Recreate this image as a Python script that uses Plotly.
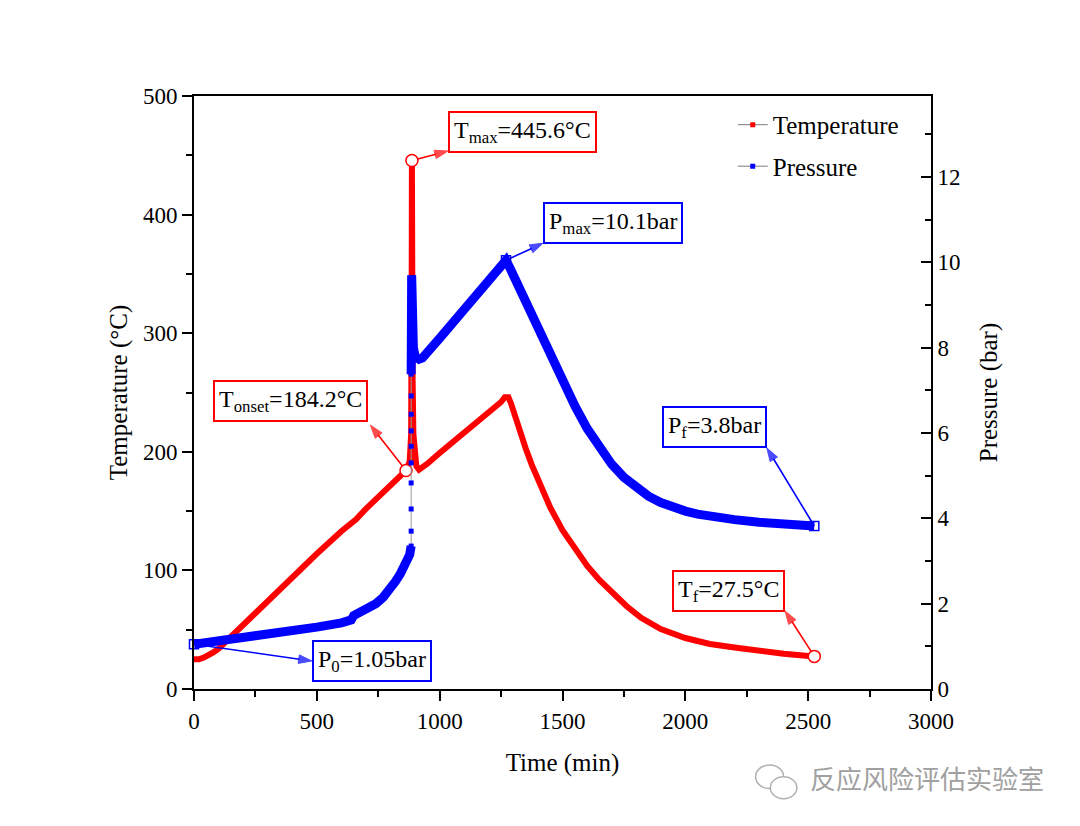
import plotly.graph_objects as go

# ---------------- data ----------------
time_temp = [0, 20, 40, 60, 80, 100, 150, 200, 260, 300, 400, 500, 600, 640, 660, 700, 800,
             863, 878, 884, 886, 887, 888, 890, 893, 898, 905, 916, 950, 1000, 1100, 1200,
             1250, 1265, 1280, 1290, 1300, 1325, 1350, 1375, 1400, 1450, 1500, 1550, 1600,
             1650, 1700, 1760, 1820, 1900, 2000, 2100, 2200, 2300, 2400, 2525]
temp = [25, 25, 26.5, 28.5, 31, 34, 44, 55, 67, 75.5, 95, 114, 133, 140, 143, 152, 171,
        184.2, 192, 215, 330, 445.6, 360, 260, 215, 195, 188, 185, 190, 199, 216, 233,
        242, 246, 246, 241, 234, 218, 203, 189, 176, 153, 134, 118, 104,
        92, 82, 70, 60, 50.5, 43, 38, 35, 32, 29.8, 27.5]

time_pres_rise = [0, 100, 200, 300, 400, 500, 600, 640, 650, 700, 740, 770, 800, 820, 840,
                  855, 868, 878, 884]
pres_rise = [1.05, 1.12, 1.20, 1.28, 1.36, 1.45, 1.55, 1.62, 1.72, 1.86, 2.00, 2.15, 2.35,
             2.52, 2.70, 2.88, 3.02, 3.15, 3.35]

time_pres_jump = [884, 884, 884, 884, 884, 884, 884, 884, 884, 884]
pres_jump = [3.35, 3.70, 4.22, 4.83, 5.30, 5.69, 6.05, 6.44, 6.87, 7.38]

time_pres_after = [884, 885, 886, 887, 889, 893, 900, 916, 930, 950, 1000, 1100, 1200, 1250,
                   1270, 1290, 1320, 1350, 1400, 1450, 1500, 1550, 1600, 1650, 1700, 1750,
                   1800, 1850, 1900, 1950, 2000, 2050, 2100, 2200, 2300, 2400, 2525]
pres_after = [7.38, 8.5, 9.7, 9.0, 8.4, 8.0, 7.8, 7.73, 7.76, 7.88, 8.22, 8.9, 9.58, 9.9,
              10.05, 9.82, 9.45, 9.08, 8.45, 7.83, 7.22, 6.64, 6.11, 5.65, 5.27, 4.96,
              4.71, 4.52, 4.37, 4.26, 4.17, 4.1, 4.05, 3.97, 3.91, 3.86, 3.82]

# key points
temp_key_time = [863, 887, 2525]
temp_key_val = [184.2, 445.6, 27.5]
pres_key_time = [0, 1270, 2525]
pres_key_val = [1.05, 10.05, 3.82]

# label boxes and their pointer arrows (tail = key point, tip = box corner)
temp_labels = ["T<sub>onset</sub>=184.2°C", "T<sub>max</sub>=445.6°C", "T<sub>f</sub>=27.5°C"]
temp_label_x = [708, 1034, 2406]
temp_label_y = [242.8, 469.6, 83]
temp_label_anchor = ["right", "left", "right"]
temp_tip_x = [718, 1034, 2406]
temp_tip_y = [222.5, 453.6, 65.8]

pres_labels = ["P<sub>0</sub>=1.05bar", "P<sub>max</sub>=10.1bar", "P<sub>f</sub>=3.8bar"]
pres_label_x = [480, 1421, 2332]
pres_label_y = [0.668, 10.92, 6.14]
pres_label_anchor = ["left", "left", "right"]
pres_tip_x = [480, 1421, 2332]
pres_tip_y = [0.656, 10.45, 5.65]

x_ticks = [0, 500, 1000, 1500, 2000, 2500, 3000]
y_ticks = [0, 100, 200, 300, 400, 500]
y2_ticks = [0, 2, 4, 6, 8, 10, 12]

RED = "#ff0000"
BLUE = "#0000ff"
FONT = "Times New Roman, Liberation Serif, serif"

fig = go.Figure()

# temperature
fig.add_trace(go.Scatter(x=time_temp, y=temp, mode="lines",
                         line=dict(color=RED, width=6), showlegend=False, yaxis="y"))
# pressure
fig.add_trace(go.Scatter(x=time_pres_rise, y=pres_rise, mode="lines",
                         line=dict(color=BLUE, width=9), showlegend=False, yaxis="y2"))
fig.add_trace(go.Scatter(x=time_pres_jump, y=pres_jump, mode="lines+markers",
                         line=dict(color="#9a9a9a", width=1),
                         marker=dict(symbol="square", size=5, color=BLUE),
                         showlegend=False, yaxis="y2"))
fig.add_trace(go.Scatter(x=time_pres_after, y=pres_after, mode="lines",
                         line=dict(color=BLUE, width=9), showlegend=False, yaxis="y2"))

# pointer arrows
for i in range(3):
    fig.add_trace(go.Scatter(x=[temp_key_time[i], temp_tip_x[i]],
                             y=[temp_key_val[i], temp_tip_y[i]], mode="lines+markers",
                             line=dict(color=RED, width=1.6),
                             marker=dict(symbol=["circle", "arrow"], size=[0, 14], color=RED,
                                         angleref="previous", line=dict(width=1, color=RED)),
                             showlegend=False, yaxis="y", cliponaxis=False, hoverinfo="skip"))
    fig.add_trace(go.Scatter(x=[pres_key_time[i], pres_tip_x[i]],
                             y=[pres_key_val[i], pres_tip_y[i]], mode="lines+markers",
                             line=dict(color=BLUE, width=1.6),
                             marker=dict(symbol=["circle", "arrow"], size=[0, 14], color=BLUE,
                                         angleref="previous", line=dict(width=1, color=BLUE)),
                             showlegend=False, yaxis="y2", cliponaxis=False, hoverinfo="skip"))

# key markers
fig.add_trace(go.Scatter(x=temp_key_time, y=temp_key_val, mode="markers",
                         marker=dict(symbol="circle", size=12, color="white",
                                     line=dict(width=1.5, color=RED)),
                         showlegend=False, yaxis="y", cliponaxis=False))
fig.add_trace(go.Scatter(x=pres_key_time, y=pres_key_val, mode="markers",
                         marker=dict(symbol="square-open", size=9, color=BLUE,
                                     line=dict(width=1.5, color=BLUE)),
                         showlegend=False, yaxis="y2", cliponaxis=False))

# legend entries
fig.add_trace(go.Scatter(x=[None], y=[None], mode="lines+markers", name="Temperature",
                         line=dict(color="#7a7a7a", width=1),
                         marker=dict(symbol="square", size=5, color=RED),
                         legendgroup="t", yaxis="y"))
fig.add_trace(go.Scatter(x=[None], y=[None], mode="lines+markers", name="Pressure",
                         line=dict(color="#7a7a7a", width=1),
                         marker=dict(symbol="square", size=5, color=BLUE),
                         legendgroup="p", yaxis="y2"))

# boxed labels
for i in range(3):
    fig.add_annotation(text=temp_labels[i], x=temp_label_x[i], y=temp_label_y[i],
                       xref="x", yref="y", xanchor=temp_label_anchor[i], yanchor="middle",
                       showarrow=False, bordercolor=RED, borderwidth=2, borderpad=4,
                       bgcolor="white", font=dict(family=FONT, size=24, color="black"))
    fig.add_annotation(text=pres_labels[i], x=pres_label_x[i], y=pres_label_y[i],
                       xref="x", yref="y2", xanchor=pres_label_anchor[i], yanchor="middle",
                       showarrow=False, bordercolor=BLUE, borderwidth=2, borderpad=4,
                       bgcolor="white", font=dict(family=FONT, size=24, color="black"))

# watermark
fig.add_annotation(text="反应风险评估实验室", xref="paper", yref="paper", x=1.156, y=-0.150,
                   xanchor="right", yanchor="middle", showarrow=False,
                   font=dict(family="Noto Sans CJK SC", size=26, color="#a0a0a0"))
fig.add_shape(type="circle", xref="paper", yref="paper", x0=0.762, x1=0.800, y0=-0.168,
              y1=-0.128, line=dict(color="#b0b0b0", width=1.5))
fig.add_shape(type="circle", xref="paper", yref="paper", x0=0.782, x1=0.818, y0=-0.185,
              y1=-0.148, line=dict(color="#b0b0b0", width=1.5), fillcolor="white")

TITLE_FONT = dict(family=FONT, size=25, color="black")
axis_common = dict(showline=True, linecolor="black", linewidth=2, ticks="outside",
                   ticklen=10, tickwidth=2, tickcolor="black", showgrid=False, zeroline=False,
                   tickfont=dict(family=FONT, size=23, color="black"), automargin=False)

fig.update_layout(
    width=1080, height=826,
    margin=dict(l=186, r=157, t=88, b=145),
    paper_bgcolor="white", plot_bgcolor="white",
    xaxis=dict(range=[0, 3000], tickvals=x_ticks, mirror=True,
               minor=dict(ticks="outside", ticklen=6, tickwidth=2, tickcolor="black", dtick=250),
               title=dict(text="Time (min)", font=TITLE_FONT, standoff=21),
               **axis_common),
    yaxis=dict(range=[0, 500], tickvals=y_ticks,
               minor=dict(ticks="outside", ticklen=6, tickwidth=2, tickcolor="black", dtick=50),
               title=dict(text="Temperature (°C)", font=TITLE_FONT, standoff=8),
               **axis_common),
    yaxis2=dict(range=[0, 13.9], tickvals=y2_ticks, overlaying="y", side="right",
                showline=True, linecolor="black", linewidth=2, ticks="inside", ticklen=10,
                tickwidth=2, tickcolor="black", showgrid=False, zeroline=False,
                tickfont=dict(family=FONT, size=23, color="black"), automargin=False,
                minor=dict(ticks="inside", ticklen=6, tickwidth=2, tickcolor="black", dtick=1),
                title=dict(text="Pressure (bar)", font=TITLE_FONT, standoff=20)),
    legend=dict(x=0.731, y=0.99, xanchor="left", yanchor="top", bgcolor="rgba(0,0,0,0)",
                font=dict(family=FONT, size=25, color="black"), traceorder="grouped",
                tracegroupgap=6),
)

fig.write_html("out.html")
